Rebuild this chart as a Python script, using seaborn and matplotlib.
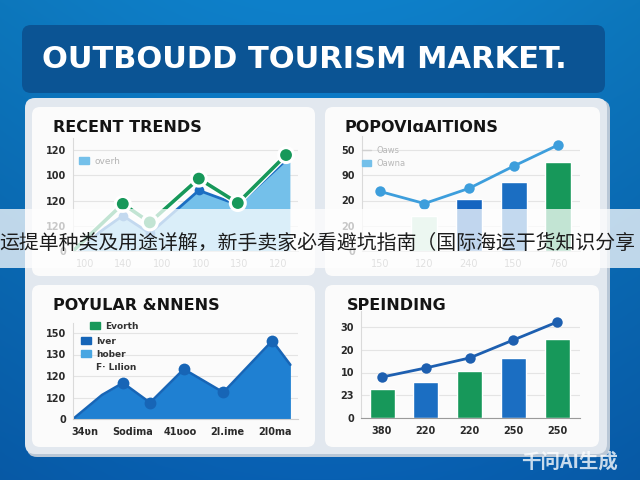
import numpy as np
import matplotlib
matplotlib.use('Agg')
import matplotlib.pyplot as plt
import seaborn as sns
from matplotlib.patches import FancyBboxPatch, Rectangle, Patch
from matplotlib.lines import Line2D
import matplotlib.patheffects as pe

sns.set_style('white')
plt.rcParams['font.family'] = ['DejaVu Sans', 'Noto Sans CJK SC']

W, H = 640, 480

# ---- data ----
trend_xlabels = ['100', '140', '100', '100', '130', '120']
trend_ylabels = ['0', '120', '120', '100', '120']
trend_x = [-0.31, 0.98, 1.68, 2.95, 3.96, 5.21]
trend_green = [0, 56, 34, 86, 57, 114]
trend_blue = [0, 42, 21, 72, 55, 108]

popv_xlabels = ['150', '120', '240', '150', '760']
popv_ylabels = ['0', '20', '20', '90', '50']
popv_bars = [0, 35, 51, 68, 88]
popv_line = [59, 47, 62, 84, 105]

popular_xlabels = ['34ʋn', 'Sodima', '41ʋoo', '2l.ime', '2l0ma']
popular_ylabels = ['0', '120', '120', '130', '150']
popular_x = [-0.25, 0.36, 0.80, 1.37, 2.08, 2.91, 3.94, 4.32]
popular_y = [0, 28, 42, 19, 58, 31, 91, 63]

spend_xlabels = ['380', '220', '220', '250', '250']
spend_ylabels = ['0', '23', '10', '20', '30']
spend_bars = [12.7, 15.8, 20.7, 26.4, 34.7]
spend_line = [18, 22, 26.4, 34.3, 42.2]

GREEN = '#17985a'
BLUE = '#1b6ec2'
LBLUE = '#74c0ea'
MINT = '#b8e3cd'

fig = plt.figure(figsize=(6.4, 4.8), dpi=100)

# background layer in pixel coordinates
bg = fig.add_axes([0, 0, 1, 1])
bg.set_xlim(0, W)
bg.set_ylim(H, 0)
bg.axis('off')
top = np.array([14, 128, 202]) / 255
bot = np.array([8, 96, 178]) / 255
t = np.linspace(0, 1, H)[:, None, None]
s = np.linspace(0, 1, W)[None, :, None]
grad = top * (1 - t) + bot * t
grad = grad * (0.93 + 0.07 * np.sin(np.pi * s))
bg.imshow(np.clip(grad, 0, 1), extent=[0, W, H, 0], aspect='auto', zorder=0)

bg.add_patch(FancyBboxPatch((22, 25), 583, 68, boxstyle='round,pad=0,rounding_size=9',
                            fc='#0b5494', ec='none', zorder=1))
bg.text(42, 60, 'OUTBOUDD TOURISM MARKET.', color='white', fontsize=22,
        fontweight='bold', va='center', ha='left', zorder=2)

bg.add_patch(FancyBboxPatch((27, 100), 583, 357, boxstyle='round,pad=0,rounding_size=10',
                            fc='#b9c7d6', ec='none', zorder=1))
bg.add_patch(FancyBboxPatch((25, 98), 582, 356, boxstyle='round,pad=0,rounding_size=10',
                            fc='#e2e8ef', ec='none', zorder=1))
for x0, y0, x1, y1 in [(32, 107, 315, 276), (325, 107, 600, 276),
                       (32, 285, 315, 447), (325, 285, 599, 447)]:
    bg.add_patch(FancyBboxPatch((x0, y0), x1 - x0, y1 - y0,
                                boxstyle='round,pad=0,rounding_size=8',
                                fc='#fbfbfb', ec='none', zorder=2))

for x, y, txt in [(53, 127, 'RECENT TRENDS'), (345, 127, 'POPOVIɑAITIONS'),
                  (53, 305, 'POYULAR &NNENS'), (347, 305, 'SPEINDING')]:
    bg.text(x, y, txt, fontsize=11.5, fontweight='bold', color='#141414',
            va='center', ha='left', zorder=3)


def chart_axes(x0, x1, y_zero, y_top, top_val, xlim, extra=12):
    ax = fig.add_axes([x0 / W, 1 - y_zero / H, (x1 - x0) / W, (y_zero - y_top + extra) / H])
    ax.set_facecolor('none')
    ax.set_ylim(0, top_val * (y_zero - y_top + extra) / (y_zero - y_top))
    ax.set_xlim(*xlim)
    ax.yaxis.grid(True, color='#e4e4e4', lw=0.8)
    ax.set_axisbelow(True)
    for sp in ['top', 'right']:
        ax.spines[sp].set_visible(False)
    ax.spines['left'].set_color('#dadada')
    ax.spines['bottom'].set_color('#cfcfcf')
    ax.tick_params(length=0, labelsize=7)
    ax.set_xlabel('')
    ax.set_ylabel('')
    return ax


def style_ticks(ax, yticks, ylabels, xticks, xlabels, xcolor, xweight):
    ax.set_yticks(yticks)
    ax.set_yticklabels(ylabels, fontweight='bold', color='#2a2a2a')
    ax.set_xticks(xticks)
    ax.set_xticklabels(xlabels, fontweight=xweight, color=xcolor)
    ax.tick_params(axis='y', pad=5)
    ax.tick_params(axis='x', pad=6)


def fig_legend(ax, handles, x, y, color, size=6.5, weight='normal'):
    leg = ax.legend(handles=handles, loc='upper left', bbox_to_anchor=(x / W, 1 - y / H),
                    bbox_transform=fig.transFigure, frameon=False, fontsize=size,
                    labelcolor=color, handlelength=1.1, handleheight=0.8,
                    handletextpad=0.6, labelspacing=0.45, borderpad=0, borderaxespad=0,
                    prop={'weight': weight, 'size': size})
    return leg


# ---- RECENT TRENDS ----
ax1 = chart_axes(73, 298, 251, 150, 120, (-0.31, 5.52))
ax1.fill_between(trend_x + [5.31], 0, trend_blue + [trend_blue[-1]], color=LBLUE, lw=0)
sns.lineplot(x=trend_x, y=trend_blue, ax=ax1, color=BLUE, lw=2, marker='o', ms=7,
             mew=0, markevery=[1, 2, 3, 4])
sns.lineplot(x=trend_x, y=trend_green, ax=ax1, color=GREEN, lw=2.6, marker='o', ms=8.5,
             mew=0, markevery=[1, 2, 3, 4, 5],
             path_effects=[pe.Stroke(linewidth=4.5, foreground='white'), pe.Normal()])
style_ticks(ax1, [0, 30, 60, 90, 120], trend_ylabels, range(6), trend_xlabels, '#8a8a8a', 'normal')
fig_legend(ax1, [Patch(color=LBLUE, label='overh')], 79, 157, '#b4b4b4')

# ---- POPOVIAITIONS ----
ax2 = chart_axes(362, 580, 251, 150, 100, (-0.4, 4.49), extra=14)
pos = list(range(5))
sns.barplot(x=pos, y=popv_bars, hue=pos, ax=ax2, legend=False, width=0.58, saturation=1,
            palette={0: MINT, 1: MINT, 2: '#1565c0', 3: BLUE, 4: GREEN})
sns.lineplot(x=pos, y=popv_line, ax=ax2, color='#3d9edc', lw=2, marker='o', ms=7.5, mew=0)
ax2.set_xlim(-0.4, 4.49)
ax2.set_ylim(0, 100 * 115 / 101)
style_ticks(ax2, [0, 25, 50, 75, 100], popv_ylabels, pos, popv_xlabels, '#8a8a8a', 'normal')
fig_legend(ax2, [Line2D([], [], color='#d0d0d0', lw=1, label='Oaws'),
                 Patch(color=LBLUE, label='Oawna')], 362, 146, '#b8b8b8', size=6)

# ---- POYULAR ----
ax3 = chart_axes(73, 298, 419, 333, 100, (-0.25, 4.48), extra=10)
ax3.fill_between(popular_x, 0, popular_y, color='#1f80d2', lw=0)
sns.lineplot(x=popular_x, y=popular_y, ax=ax3, color='#1765b6', lw=1.8, marker='o', ms=8.5,
             mew=0, markevery=[2, 3, 4, 5, 6])
style_ticks(ax3, [0, 25, 50, 75, 100], popular_ylabels, range(5), popular_xlabels, '#2a2a2a', 'bold')
leg_a = fig_legend(ax3, [Patch(color=GREEN, label='Evorth')], 90, 322, '#333333', weight='bold')
ax3.add_artist(leg_a)
fig_legend(ax3, [Patch(color='#1565b8', label='Iver'), Patch(color='#48a6e2', label='hober'),
                 Patch(color='none', label='F· Lılion')], 81, 337, '#333333', weight='bold')

# ---- SPEINDING ----
ax4 = chart_axes(361, 580, 418, 327, 40, (-0.48, 4.52), extra=16)
sns.barplot(x=pos, y=spend_bars, hue=pos, ax=ax4, legend=False, width=0.57, saturation=1,
            palette={0: GREEN, 1: BLUE, 2: GREEN, 3: BLUE, 4: GREEN})
sns.lineplot(x=pos, y=spend_line, ax=ax4, color='#1d5fb0', lw=2, marker='o', ms=7.5, mew=0)
ax4.set_xlim(-0.48, 4.52)
ax4.set_ylim(0, 40 * 107 / 91)
ax4.spines['bottom'].set_color('#9a9a9a')
style_ticks(ax4, [0, 10, 20, 30, 40], spend_ylabels, pos, spend_xlabels, '#2a2a2a', 'bold')

# ---- overlay banner and watermark ----
ov = fig.add_axes([0, 0, 1, 1])
ov.set_xlim(0, W)
ov.set_ylim(H, 0)
ov.axis('off')
ov.add_patch(Rectangle((0, 209), W, 59, fc='white', alpha=0.74, ec='none'))
ov.text(-1, 243, '运提单种类及用途详解，新手卖家必看避坑指南（国际海运干货知识分享',
        fontsize=14.3, color='#1c1c1c', va='center', ha='left',
        family=['Noto Sans CJK SC', 'DejaVu Sans'])
ov.text(570, 462, '千问AI生成', fontsize=14, fontweight='bold', color='white', alpha=0.78,
        va='center', ha='center', family=['Noto Sans CJK SC', 'DejaVu Sans'])

fig.savefig('out.png', dpi=100)
